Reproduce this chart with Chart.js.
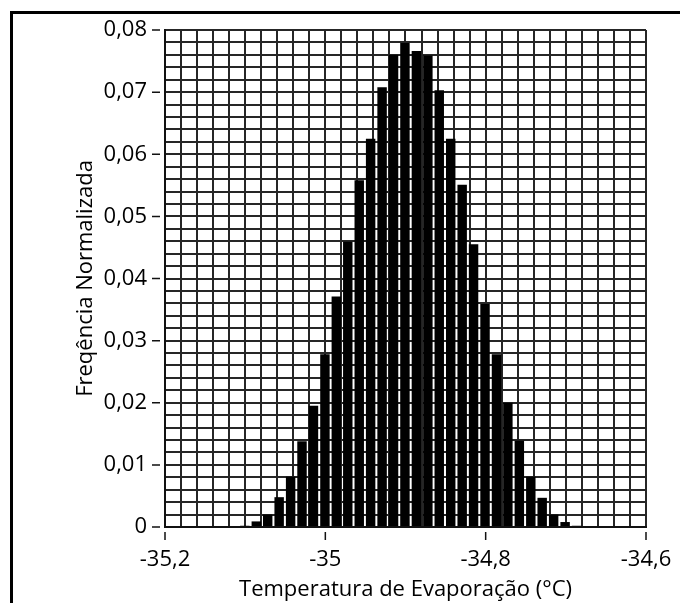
<!DOCTYPE html>
<html>
<head>
<meta charset="utf-8">
<script src="https://cdn.jsdelivr.net/npm/chart.js@4"></script>
<style>
  html, body { margin: 0; padding: 0; background: #fff; }
  #wrap { position: relative; width: 680px; height: 603px; overflow: hidden; }
  #frame { position: absolute; left: 10px; top: 11px; width: 700px; height: 620px;
           border-left: 3px solid #000; border-top: 3px solid #000; box-sizing: border-box; }
  #histo { position: absolute; left: 0; top: 0; }
</style>
</head>
<body>
<div id="wrap">
  <div id="frame"></div>
  <canvas id="histo" width="680" height="603"></canvas>
</div>
<script>
// histogram bins (centre of each class, °C) and normalised frequency
const binCenters = [
  -35.1004, -35.0861, -35.0719, -35.0576, -35.0433, -35.0291, -35.0148, -35.0005,
  -34.9863, -34.9720, -34.9577, -34.9435, -34.9292, -34.9149, -34.9007, -34.8864,
  -34.8721, -34.8579, -34.8436, -34.8293, -34.8151, -34.8008, -34.7865, -34.7723,
  -34.7580, -34.7437, -34.7295, -34.7152, -34.7009, -34.6867
];
const freq = [
  0.0002, 0.0009, 0.0020, 0.0048, 0.0081, 0.0138, 0.0195, 0.0278,
  0.0371, 0.0459, 0.0558, 0.0625, 0.0708, 0.0760, 0.0779, 0.0766,
  0.0759, 0.0703, 0.0625, 0.0551, 0.0455, 0.0359, 0.0278, 0.0200,
  0.0139, 0.0081, 0.0047, 0.0020, 0.0008, 0.0002
];
const xTicks = [-35.2, -35, -34.8, -34.6];
const yTicks = [0, 0.01, 0.02, 0.03, 0.04, 0.05, 0.06, 0.07, 0.08];

const FONT = 'Open Sans, sans-serif';
const FSIZE = 22;
const gridColor = '#262626';

const isMajor = (v, list) => list.some(t => Math.abs(t - v) < 1e-6);
const fmt = v => String(Math.round(v * 100) / 100).replace('.', ',');

// short tick marks set off a few pixels from the plot frame
const tickMarks = {
  id: 'tickMarks',
  afterDraw(chart) {
    const { ctx, chartArea, scales } = chart;
    ctx.save();
    ctx.strokeStyle = '#111';
    ctx.lineWidth = 1.5;
    ctx.beginPath();
    yTicks.forEach(v => {
      const y = scales.y.getPixelForValue(v);
      ctx.moveTo(chartArea.left - 13, y);
      ctx.lineTo(chartArea.left - 5, y);
    });
    xTicks.forEach(v => {
      const x = scales.x.getPixelForValue(v);
      ctx.moveTo(x, chartArea.bottom + 5);
      ctx.lineTo(x, chartArea.bottom + 13);
    });
    ctx.stroke();
    ctx.restore();
  }
};

new Chart(document.getElementById('histo'), {
  type: 'bar',
  data: {
    datasets: [{
      data: binCenters.map((x, i) => ({ x: x, y: freq[i] })),
      backgroundColor: '#000',
      borderWidth: 0,
      barPercentage: 0.83,
      categoryPercentage: 1
    }]
  },
  options: {
    responsive: false,
    animation: false,
    devicePixelRatio: 1,
    layout: { padding: { left: 0, top: 30, right: 34, bottom: 0 } },
    plugins: { legend: { display: false }, tooltip: { enabled: false } },
    scales: {
      x: {
        type: 'linear',
        min: -35.2, max: -34.6,
        offset: false,
        // fixed band under the plot; end labels may overhang into the margin
        afterFit: s => { s.height = 76; s.paddingLeft = 0; s.paddingRight = 0; },
        grid: { color: gridColor, lineWidth: 2, drawTicks: false, offset: false },
        border: { color: '#111', width: 2 },
        ticks: {
          stepSize: 0.02, maxTicksLimit: 1000, autoSkip: false, maxRotation: 0,
          padding: 20, color: '#000', font: { family: FONT, size: FSIZE },
          callback: v => isMajor(v, xTicks) ? fmt(v) : ''
        },
        title: {
          display: true, text: 'Temperatura de Evaporação (°C)',
          color: '#000', font: { family: FONT, size: FSIZE },
          padding: { top: 0, bottom: 0 }
        }
      },
      y: {
        min: 0, max: 0.08,
        afterFit: s => { s.width = 165; s.paddingTop = 0; s.paddingBottom = 0; },
        grid: { color: gridColor, lineWidth: 2, drawTicks: false },
        border: { color: '#111', width: 2 },
        ticks: {
          stepSize: 0.002, maxTicksLimit: 1000, autoSkip: false,
          padding: 18, color: '#000', font: { family: FONT, size: FSIZE },
          callback: v => isMajor(v, yTicks) ? fmt(v) : ''
        },
        title: {
          display: true, text: 'Freqência Normalizada',
          color: '#000', font: { family: FONT, size: FSIZE },
          padding: { top: 73, bottom: 0 }
        }
      }
    }
  },
  plugins: [tickMarks]
});
</script>
</body>
</html>
